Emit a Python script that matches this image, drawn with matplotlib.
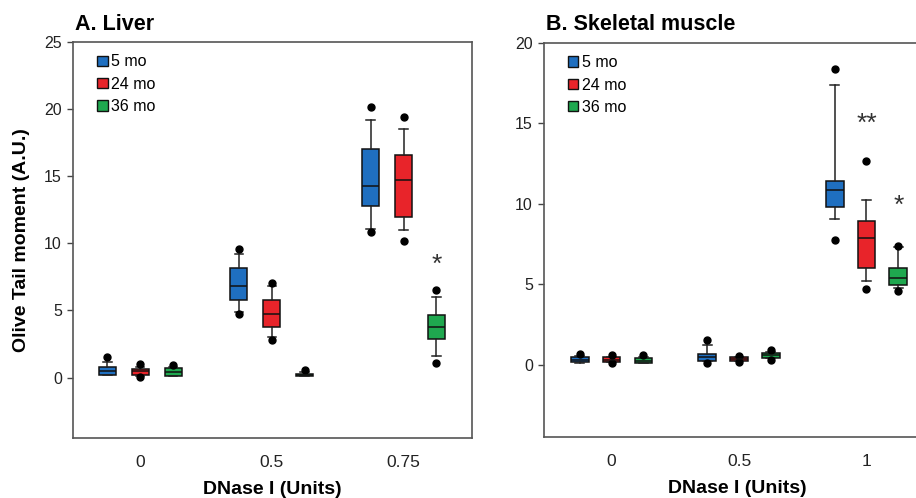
import matplotlib
matplotlib.use("Agg")
import matplotlib.pyplot as plt
from matplotlib.patches import Patch

plt.rcParams['font.family'] = ['Liberation Sans', 'DejaVu Sans']

ages = ['5 mo', '24 mo', '36 mo']
colors = ['#1f6fc0', '#e8242a', '#1fa84f']

# Liver: per age, per dose -> (whislo, q1, med, q3, whishi), fliers
liver_doses = ['0', '0.5', '0.75']
liver_stats = [
    [(0.2, 0.2, 0.52, 0.82, 1.14), (4.9, 5.77, 6.8, 8.16, 9.2), (11.1, 12.76, 14.3, 17.0, 19.2)],
    [(0.15, 0.22, 0.47, 0.65, 0.8), (3.0, 3.75, 4.75, 5.8, 6.8), (11.0, 12.0, 14.7, 16.57, 18.5)],
    [(0.15, 0.15, 0.4, 0.7, 0.8), (0.1, 0.15, 0.22, 0.3, 0.45), (1.64, 2.86, 3.8, 4.65, 6.04)],
]
liver_fliers = [
    [[1.57], [4.75, 9.6], [10.85, 20.2]],
    [[0.02, 1.02], [2.8, 7.07], [10.2, 19.4]],
    [[0.97], [0.6], [1.07, 6.5]],
]
liver_marks = [(2, 2, 8.4, '*')]

# Skeletal muscle
muscle_doses = ['0', '0.5', '1']
muscle_stats = [
    [(0.1, 0.15, 0.3, 0.48, 0.55), (0.2, 0.2, 0.48, 0.68, 1.24), (9.05, 9.77, 10.87, 11.43, 17.4)],
    [(0.15, 0.18, 0.3, 0.45, 0.5), (0.2, 0.2, 0.33, 0.48, 0.5), (5.22, 5.98, 7.87, 8.92, 10.23)],
    [(0.1, 0.12, 0.25, 0.42, 0.5), (0.4, 0.42, 0.58, 0.72, 0.8), (4.75, 4.93, 5.36, 5.98, 7.3)],
]
muscle_fliers = [
    [[0.65], [0.1, 1.55], [7.78, 18.4]],
    [[0.12, 0.6], [0.15, 0.56], [4.72, 12.67]],
    [[0.6], [0.3, 0.93], [4.6, 7.39]],
]
muscle_marks = [(1, 2, 15.0, '**'), (2, 2, 9.9, '*')]


def draw_panel(ax, title, doses, stats, fliers, marks, ymax, offset, width):
    for i, age in enumerate(ages):
        bstats = []
        for j in range(len(doses)):
            lo, q1, med, q3, hi = stats[i][j]
            bstats.append(dict(whislo=lo, q1=q1, med=med, q3=q3, whishi=hi, fliers=fliers[i][j]))
        pos = [j + (i - 1) * offset for j in range(len(doses))]
        ax.bxp(bstats, positions=pos, widths=width, patch_artist=True, manage_ticks=False,
               boxprops=dict(facecolor=colors[i], edgecolor='#111111', linewidth=1.1),
               medianprops=dict(color='#111111', linewidth=1.1),
               whiskerprops=dict(color='#222222', linewidth=1.1),
               capprops=dict(color='#222222', linewidth=1.1),
               flierprops=dict(marker='o', markerfacecolor='black', markeredgecolor='black', markersize=5))
    for i, j, y, s in marks:
        ax.text(j + (i - 1) * offset, y, s, ha='center', va='center', fontsize=19, color='#333333')
    ax.set_xlim(-0.51, 2.52)
    ax.set_ylim(-4.5, ymax)
    ax.set_yticks(range(0, ymax + 1, 5))
    ax.set_xticks(range(len(doses)))
    ax.set_xticklabels(doses)
    ax.tick_params(axis='x', length=0, pad=12, labelsize=12.5, labelcolor='#222222')
    ax.tick_params(axis='y', length=4, width=1, pad=4, labelsize=11.5, color='#444444', labelcolor='#222222')
    for sp in ax.spines.values():
        sp.set_color('#555555')
        sp.set_linewidth(1.2)
    ax.set_xlabel('DNase I (Units)', fontsize=14, fontweight='bold', labelpad=8)
    ax.set_title(title, loc='left', fontsize=15.5, fontweight='bold', pad=9, x=0.005)
    handles = [Patch(facecolor=c, edgecolor='#111111', linewidth=1) for c in colors]
    ax.legend(handles, ages, loc='upper left', bbox_to_anchor=(0.025, 1.005), frameon=False,
              fontsize=11.5, handlelength=0.65, handleheight=0.65, handletextpad=0.2, labelspacing=0.45)


fig = plt.figure(figsize=(9.16, 4.98), dpi=100)
ax1 = fig.add_axes([0.0797, 0.1205, 0.4356, 0.795])
ax2 = fig.add_axes([0.5939, 0.1225, 0.4216, 0.7912])

draw_panel(ax1, 'A. Liver', liver_doses, liver_stats, liver_fliers, liver_marks, 25, 0.25, 0.13)
draw_panel(ax2, 'B. Skeletal muscle', muscle_doses, muscle_stats, muscle_fliers, muscle_marks, 20, 0.25, 0.14)
ax2.set_xlim(-0.53, 2.5)
ax1.set_ylabel('Olive Tail moment (A.U.)', fontsize=14, fontweight='bold', labelpad=10)

fig.savefig('out.png', dpi=100)
